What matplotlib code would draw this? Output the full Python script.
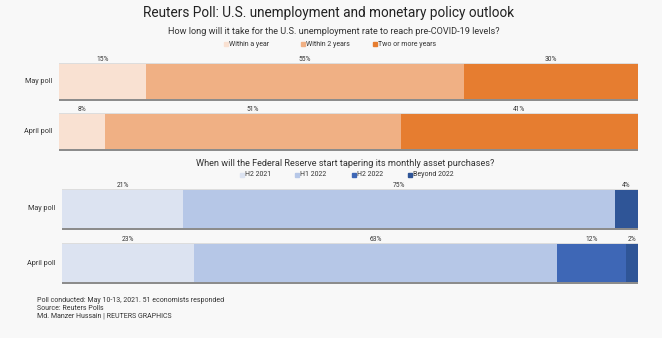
import matplotlib
matplotlib.use("Agg")
import matplotlib.pyplot as plt
from matplotlib.patches import Rectangle

plt.rcParams['font.family'] = ['Roboto', 'DejaVu Sans']

# data
polls = ["May poll", "April poll"]

recovery_cats = ["Within a year", "Within 2 years", "Two or more years"]
recovery_vals = {
    "May poll": [15, 55, 30],
    "April poll": [8, 51, 41],
}
recovery_colors = ["#f9e1d2", "#f0b084", "#e67d30"]

taper_cats = ["H2 2021", "H1 2022", "H2 2022", "Beyond 2022"]
taper_vals = {
    "May poll": [21, 75, 0, 4],
    "April poll": [23, 63, 12, 2],
}
taper_colors = ["#dce3f1", "#b6c7e7", "#3e67b6", "#2f5597"]

bg = "#f8f8f8"
txt = "#333333"
W, H = 662, 338

fig = plt.figure(figsize=(W / 100, H / 100), dpi=100, facecolor=bg)


def px_axes(x0, y0, x1, y1):
    # pixel box (top-left origin) -> figure axes
    return fig.add_axes([x0 / W, 1 - y1 / H, (x1 - x0) / W, (y1 - y0) / H])


def stacked(ax, vals, colors, label_x):
    ax.set_facecolor(bg)
    bh = 0.7
    for i, p in enumerate(polls):
        v = vals[p]
        total = sum(v)
        # shadow below and faint edge above
        ax.barh(i + 0.045, total, height=bh, color="#8c8c8c", zorder=1, clip_on=False)
        ax.barh(i - 0.02, total, height=bh, color="#dddddd", zorder=1, clip_on=False)
        left = 0
        for val, c in zip(v, colors):
            ax.barh(i, val, left=left, height=bh, color=c, zorder=2)
            if val > 0:
                ax.text(left + val / 2, i - bh / 2 - 0.02, f"{val}%", ha="center",
                        va="bottom", fontsize=4.8, color=txt, clip_on=False)
            left += val
        ax.text(label_x, i, p, ha="right", va="center", fontsize=5.2, color=txt,
                transform=ax.get_yaxis_transform(), clip_on=False)
    ax.set_xlim(0, 100)
    ax.set_ylim(1 + 0.35, -0.35)
    ax.axis("off")


def legend(cats, colors, xs, y):
    for c, col, x in zip(cats, colors, xs):
        fig.patches.append(Rectangle((x / W, 1 - (y + 2) / H), 4 / W, 4 / H,
                                     transform=fig.transFigure, color=col))
        fig.text((x + 5) / W, 1 - y / H, c, fontsize=5, color=txt,
                 ha="left", va="center")


ax1 = px_axes(59, 64, 638, 149)
stacked(ax1, recovery_vals, recovery_colors, -0.012)

ax2 = px_axes(62, 190, 638, 282)
stacked(ax2, taper_vals, taper_colors, -0.012)

fig.text(329 / W, 1 - 13 / H, "Reuters Poll: U.S. unemployment and monetary policy outlook",
         ha="center", va="center", fontsize=9.8, color="#222222")
fig.text(334 / W, 1 - 31 / H, "How long will it take for the U.S. unemployment rate to reach pre-COVID-19 levels?",
         ha="center", va="center", fontsize=6.6, color=txt)
legend(recovery_cats, recovery_colors, [224, 301, 373], 44)

fig.text(345 / W, 1 - 163 / H, "When will the Federal Reserve start tapering its monthly asset purchases?",
         ha="center", va="center", fontsize=6.6, color=txt)
legend(taper_cats, taper_colors, [240, 295, 352, 408], 175)

foot = ["Poll conducted: May 10-13, 2021. 51 economists responded",
        "Source: Reuters Polls",
        "Md. Manzer Hussain | REUTERS GRAPHICS"]
for k, line in enumerate(foot):
    fig.text(37 / W, 1 - (300 + 8 * k) / H, line, fontsize=5, color=txt,
             ha="left", va="center")

fig.savefig("out.png", dpi=100, facecolor=bg)
